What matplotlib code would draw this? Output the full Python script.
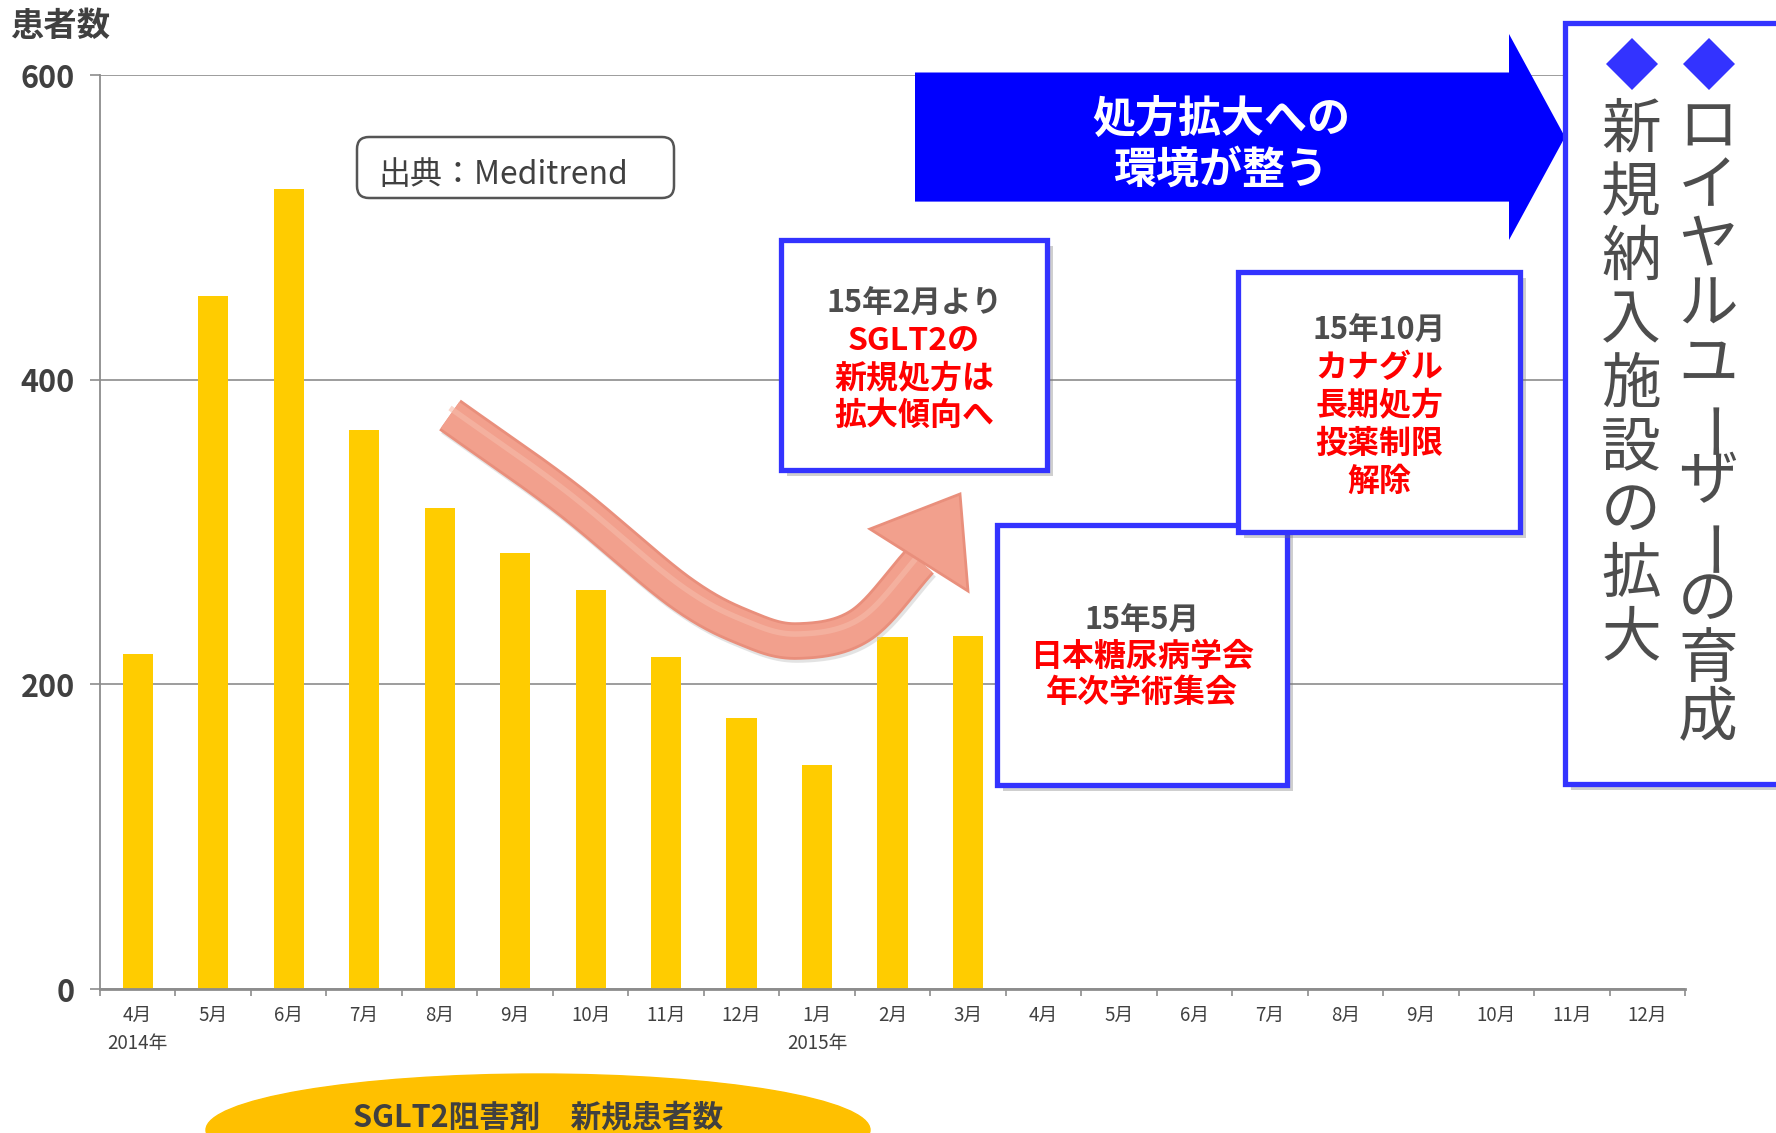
import numpy as np
import matplotlib
matplotlib.use('Agg')
import matplotlib.pyplot as plt
import matplotlib.transforms as mtransforms
from matplotlib.patches import Rectangle, Polygon, FancyBboxPatch, Ellipse

plt.rcParams['font.family'] = ['Noto Sans CJK JP', 'DejaVu Sans']

# ---------------- data ----------------
months = ['4月', '5月', '6月', '7月', '8月', '9月', '10月', '11月', '12月',
          '1月', '2月', '3月', '4月', '5月', '6月', '7月', '8月', '9月',
          '10月', '11月', '12月']
year_pos = [0, 9]
year_labels = ['2014年', '2015年']
patients = [220, 455, 525, 367, 316, 286, 262, 218, 178, 147, 231, 232]
y_ticks = [0, 200, 400, 600]
y_title = '患者数'
series_label = 'SGLT2阻害剤　新規患者数'
source_text = '出典：Meditrend'
arrow_lines = ['処方拡大への', '環境が整う']
call1_head, call1_body = '15年2月より', ['SGLT2の', '新規処方は', '拡大傾向へ']
call2_head, call2_body = '15年10月', ['カナグル', '長期処方', '投薬制限', '解除']
call3_head, call3_body = '15年5月', ['日本糖尿病学会', '年次学術集会']
right_col_a = 'ロイヤルユーザーの育成'
right_col_b = '新規納入施設の拡大'

# ---------------- figure ----------------
W, H = 1776, 1133
fig = plt.figure(figsize=(W / 100, H / 100), dpi=100)
L, R, T, B = 100, 1685, 75, 989
ax = fig.add_axes([L / W, 1 - B / H, (R - L) / W, (B - T) / H])

GRAY = '#8C8C8C'
TXT = '#404040'

x = np.arange(len(patients))
ax.bar(x, patients, width=0.4, color='#FFCC00', zorder=2)
ax.set_xlim(-0.5, len(months) - 0.5)
ax.set_ylim(0, 600)
ax.set_yticks(y_ticks)
ax.set_yticklabels([str(v) for v in y_ticks], fontsize=22, fontweight='bold', color=TXT)
ax.tick_params(axis='y', length=7, width=1.2, color=GRAY, pad=11)
ax.yaxis.grid(True, color=GRAY, lw=1.2, zorder=0)
ax.set_axisbelow(True)
for s in ['top', 'right']:
    ax.spines[s].set_visible(False)
ax.spines['left'].set_color(GRAY)
ax.spines['left'].set_linewidth(1.3)
ax.spines['bottom'].set_color(GRAY)
ax.spines['bottom'].set_linewidth(2)
ax.set_xticks(np.arange(-0.5, len(months), 1.0))
ax.set_xticklabels([])
ax.tick_params(axis='x', length=5, width=1.2, color=GRAY, direction='out')

btr = mtransforms.blended_transform_factory(ax.transData, ax.transAxes)
for i, m in enumerate(months):
    ax.text(i, -26 / 914, m, transform=btr, ha='center', va='center',
            fontsize=13.5, color=TXT, clip_on=False)
for p, yl in zip(year_pos, year_labels):
    ax.text(p, -54 / 914, yl, transform=btr, ha='center', va='center',
            fontsize=13.5, color=TXT, clip_on=False)

# ---------------- overlay in pixel coordinates ----------------
ov = fig.add_axes([0, 0, 1, 1], zorder=5)
ov.set_xlim(0, W)
ov.set_ylim(H, 0)
ov.axis('off')

ov.text(60, 26, y_title, ha='center', va='center', fontsize=24,
        fontweight='bold', color=TXT)

# bottom ellipse label
ov.add_patch(Ellipse((538, 1130), 664, 112, color='#FFC000', zorder=1))
ov.text(538, 1117, series_label, ha='center', va='center', fontsize=22,
        fontweight='bold', color=TXT, zorder=2)

# source box
ov.add_patch(FancyBboxPatch((357, 137), 317, 61,
                            boxstyle='round,pad=0,rounding_size=12',
                            fc='white', ec='#555555', lw=1.8, zorder=2))
ov.text(378, 175, source_text, ha='left', va='center', fontsize=23,
        color=TXT, zorder=3)

# big blue arrow
arrow_poly = [(915, 72.5), (1509, 72.5), (1509, 34), (1565, 137),
              (1509, 240), (1509, 201.6), (915, 201.6)]
ov.add_patch(Polygon(arrow_poly, closed=True, fc='#0000FF', ec='none', zorder=2))
ov.text(1221, 119, arrow_lines[0], ha='center', va='center', fontsize=31,
        fontweight='bold', color='white', zorder=3)
ov.text(1221, 170, arrow_lines[1], ha='center', va='center', fontsize=31,
        fontweight='bold', color='white', zorder=3)


def callout(x0, y0, x1, y1, head, body, ys, cx, z):
    ov.add_patch(Rectangle((x0 + 6, y0 + 6), x1 - x0, y1 - y0, fc='#777777',
                           ec='none', alpha=0.35, zorder=z))
    ov.add_patch(Rectangle((x0, y0), x1 - x0, y1 - y0, fc='white',
                           ec='#3333FF', lw=3.8, zorder=z + 0.1))
    ov.text(cx, ys[0], head, ha='center', va='center', fontsize=22,
            fontweight='bold', color='#4D4D4D', zorder=z + 0.2)
    for line, yy in zip(body, ys[1:]):
        ov.text(cx, yy, line, ha='center', va='center', fontsize=23,
                fontweight='bold', color='#FF0000', zorder=z + 0.2)


callout(781, 240, 1047, 470, call1_head, call1_body, [303, 342, 379, 416], 914, 3)
callout(997, 525, 1287, 785, call3_head, call3_body, [620, 657, 693], 1142, 3)
callout(1238, 272, 1520, 532, call2_head, call2_body, [330, 368, 406, 444, 482], 1379, 4)

# right box with vertical text
ov.add_patch(Rectangle((1571, 29), 260, 761, fc='#777777', ec='none',
                       alpha=0.35, zorder=3))
ov.add_patch(Rectangle((1565, 23), 260, 761, fc='white', ec='#3333FF',
                       lw=3.8, zorder=3.1))
for cx in (1632, 1709):
    ov.add_patch(Polygon([(cx, 38), (cx + 26, 64), (cx, 90), (cx - 26, 64)],
                         closed=True, fc='#3333FF', ec='none', zorder=3.2))


def vcolumn(text, cx, y0, pitch):
    for i, ch in enumerate(text):
        rot = ch == 'ー'
        ov.text(cx + (9 if rot else 0), y0 + pitch * i, ch, ha='center',
                va='center', fontsize=43, color='#4D4D4D',
                rotation=90 if rot else 0, zorder=3.3)


vcolumn(right_col_b, 1631, 131, 63.5)
vcolumn(right_col_a, 1708, 129, 59)


# curved salmon arrow
def catmull(pts, n=40):
    pts = np.asarray(pts, float)
    P = np.vstack([pts[0] * 2 - pts[1], pts, pts[-1] * 2 - pts[-2]])
    out = []
    t = np.linspace(0, 1, n, endpoint=False)[:, None]
    for i in range(1, len(P) - 2):
        p0, p1, p2, p3 = P[i - 1], P[i], P[i + 1], P[i + 2]
        out.append(0.5 * ((2 * p1) + (-p0 + p2) * t
                          + (2 * p0 - 5 * p1 + 4 * p2 - p3) * t ** 2
                          + (-p0 + 3 * p1 - 3 * p2 + p3) * t ** 3))
    out.append(P[-2][None])
    return np.vstack(out)


guide = [(450, 415), (566, 498), (680, 592), (748, 629), (799, 641),
         (861, 625), (920, 561)]
cp = catmull(guide)
ov.plot(cp[:, 0] + 2, cp[:, 1] + 3, color='#C9C9C9', lw=27, alpha=0.5,
        solid_capstyle='butt', zorder=2)
ov.plot(cp[:, 0], cp[:, 1], color='#E98F7C', lw=27, solid_capstyle='butt', zorder=2.1)
ov.plot(cp[:, 0], cp[:, 1], color='#F2A08D', lw=23, solid_capstyle='butt', zorder=2.2)
ov.plot(cp[:, 0], cp[:, 1] - 7, color='#F7BBAA', lw=4, alpha=0.6,
        solid_capstyle='butt', zorder=2.3)
head = [(960, 494), (870, 529), (968, 591)]
ov.add_patch(Polygon(head, closed=True, fc='#F2A08D', ec='#E98F7C', lw=2, zorder=2.4))

fig.savefig('out.png', dpi=100)
